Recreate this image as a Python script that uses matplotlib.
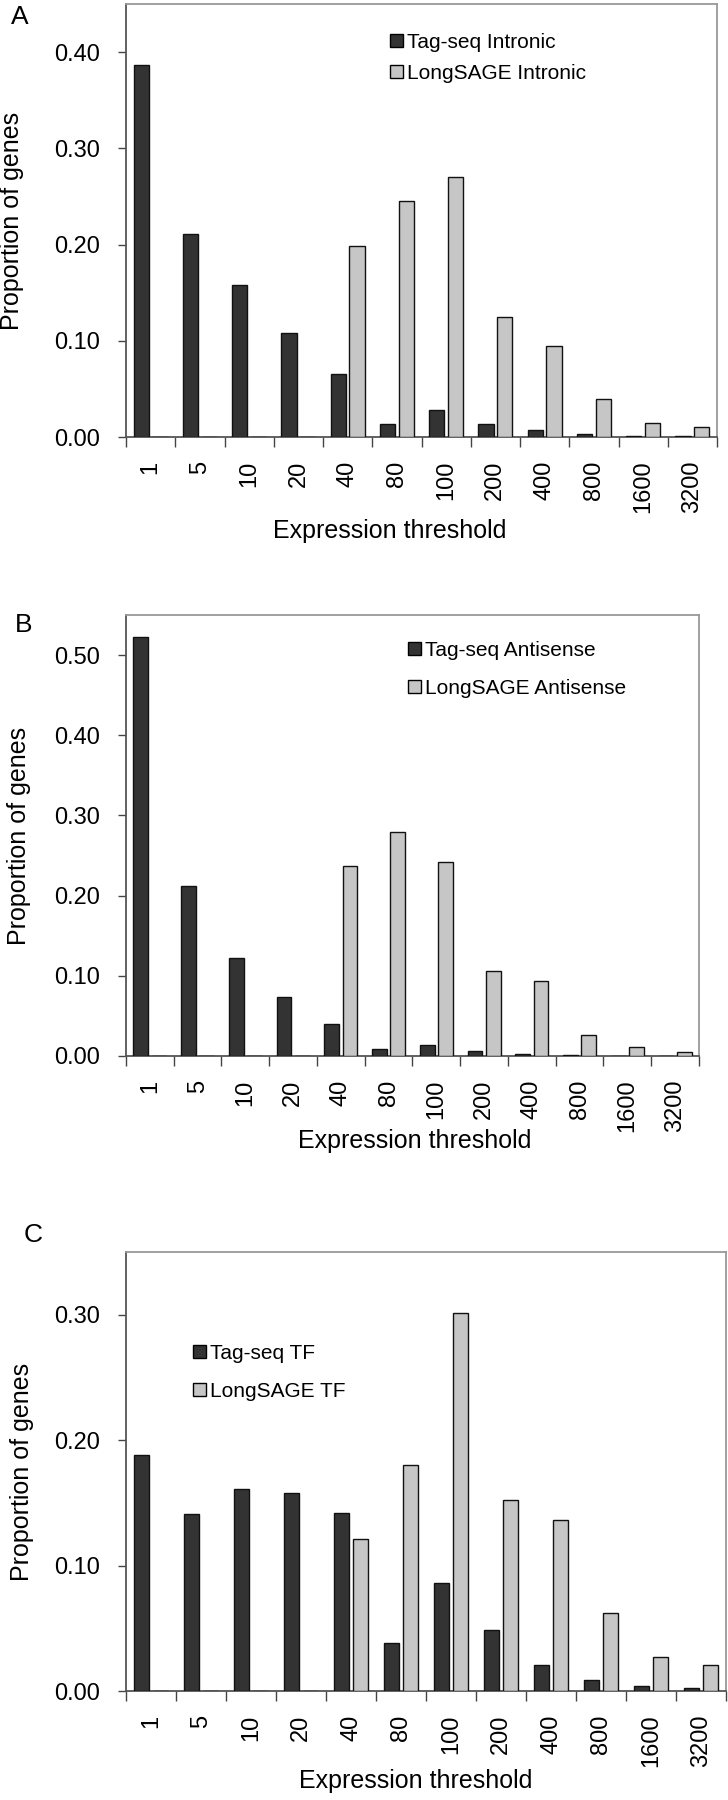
import matplotlib
matplotlib.use('Agg')
import matplotlib.pyplot as plt
import numpy as np
from matplotlib.patches import Patch
from matplotlib.ticker import FixedLocator, FormatStrFormatter

plt.rcParams['font.family'] = ['Liberation Sans', 'DejaVu Sans']

# ---------------- data ----------------
thresholds = ['1', '5', '10', '20', '40', '80', '100', '200', '400', '800', '1600', '3200']

intronic_tagseq = [0.387, 0.211, 0.158, 0.108, 0.065, 0.014, 0.028, 0.014, 0.007, 0.003, 0.0015, 0.001]
intronic_longsage = [0, 0, 0, 0, 0.198, 0.245, 0.270, 0.125, 0.095, 0.040, 0.015, 0.010]

antisense_tagseq = [0.523, 0.212, 0.122, 0.073, 0.040, 0.009, 0.014, 0.006, 0.002, 0.001, 0.0005, 0.0003]
antisense_longsage = [0, 0, 0, 0, 0.237, 0.279, 0.242, 0.106, 0.094, 0.026, 0.011, 0.005]

tf_tagseq = [0.188, 0.141, 0.161, 0.158, 0.142, 0.0385, 0.086, 0.049, 0.021, 0.0087, 0.004, 0.002]
tf_longsage = [0, 0, 0, 0, 0.121, 0.180, 0.301, 0.152, 0.136, 0.062, 0.027, 0.021]

panel_letters = ['A', 'B', 'C']
legend_a = ['Tag-seq Intronic', 'LongSAGE Intronic']
legend_b = ['Tag-seq Antisense', 'LongSAGE Antisense']
legend_c = ['Tag-seq TF', 'LongSAGE TF']

# ---------------- styling ----------------
W, H = 728, 1800
DARK = '#333333'
LIGHT = '#c6c6c6'

fig = plt.figure(figsize=(W / 100, H / 100), dpi=100)


def fx(px):
    return px / W


def fy(py):
    return 1 - py / H


def make_panel(rect_px, tag, ls, ymax, yticks, letter, letter_px, leg_labels, leg_px, labelspacing,
               xlabel_px, ylabel_px):
    l, r, t, b = rect_px
    ax = fig.add_axes([fx(l), fy(b), (r - l) / W, (b - t) / H])
    x = np.arange(len(thresholds))
    w = 0.31
    ax.bar(x - 0.19, tag, width=w, color=DARK, edgecolor='#111111', linewidth=1.0, zorder=3)
    ax.bar(x + 0.19, ls, width=w, color=LIGHT, edgecolor='#111111', linewidth=1.0, zorder=3)
    ax.set_xlim(-0.5, len(thresholds) - 0.5)
    ax.set_ylim(0, ymax)

    ax.set_yticks(yticks)
    ax.yaxis.set_major_formatter(FormatStrFormatter('%.2f'))
    ax.tick_params(axis='y', direction='out', length=6, width=1.0, pad=13,
                   labelsize=17, color='#444444')

    ax.set_xticks(x)
    ax.set_xticklabels(thresholds, rotation=90)
    ax.xaxis.set_minor_locator(FixedLocator(np.arange(-0.5, len(thresholds), 1.0)))
    ax.tick_params(axis='x', which='major', length=0, pad=17, labelsize=17)
    ax.tick_params(axis='x', which='minor', direction='out', length=7, width=1.0, color='#444444')

    for s in ['left', 'bottom']:
        ax.spines[s].set_color('#555555')
        ax.spines[s].set_linewidth(1.3)
    for s in ['top', 'right']:
        ax.spines[s].set_color('#999999')
        ax.spines[s].set_linewidth(1.3)

    ax.set_xlabel('Expression threshold', fontsize=18)
    ax.xaxis.set_label_coords(fx(xlabel_px[0]), fy(xlabel_px[1]), transform=fig.transFigure)
    ax.xaxis.label.set_va('top')
    ax.set_ylabel('Proportion of genes', fontsize=18)
    ax.yaxis.set_label_coords(fx(ylabel_px), fy((t + b) / 2), transform=fig.transFigure)

    fig.text(fx(letter_px[0]), fy(letter_px[1]), letter, fontsize=19, ha='left', va='top')

    handles = [Patch(facecolor=DARK, edgecolor='black', linewidth=1.0),
               Patch(facecolor=LIGHT, edgecolor='black', linewidth=1.0)]
    ax.legend(handles, leg_labels, loc='upper left',
              bbox_to_anchor=(fx(leg_px[0]), fy(leg_px[1])), bbox_transform=fig.transFigure,
              frameon=False, fontsize=15, handlelength=0.6, handleheight=0.6,
              handletextpad=0.2, labelspacing=labelspacing, borderpad=0, borderaxespad=0)
    return ax


make_panel((126, 717, 4, 437), intronic_tagseq, intronic_longsage, 0.45,
           [0, 0.1, 0.2, 0.3, 0.4], panel_letters[0], (11, 5), legend_a, (390, 33), 0.58,
           (390, 519), 24)

make_panel((126, 699, 615, 1056), antisense_tagseq, antisense_longsage, 0.55,
           [0, 0.1, 0.2, 0.3, 0.4, 0.5], panel_letters[1], (15, 613), legend_b, (408, 641), 0.91,
           (415, 1129), 31)

make_panel((126, 726, 1252, 1691), tf_tagseq, tf_longsage, 0.35,
           [0, 0.1, 0.2, 0.3], panel_letters[2], (24, 1223), legend_c, (193, 1344), 0.91,
           (416, 1769), 34)

fig.savefig('out.png', dpi=100, facecolor='white')
